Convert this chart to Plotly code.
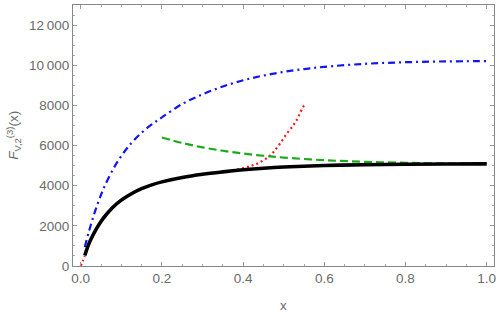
import plotly.graph_objects as go

# Black solid curve
black_x = [0.01, 0.02, 0.03, 0.04, 0.05, 0.06, 0.08, 0.10, 0.125, 0.15, 0.175, 0.20, 0.25, 0.30, 0.35, 0.40, 0.45, 0.50, 0.60, 0.70, 0.80, 0.90, 1.00]
black_y = [520, 1100, 1530, 1900, 2220, 2490, 2940, 3280, 3600, 3850, 4040, 4190, 4410, 4570, 4690, 4790, 4870, 4930, 5005, 5045, 5070, 5082, 5088]

# Blue dash-dot curve
blue_x = [0.01, 0.02, 0.03, 0.04, 0.05, 0.06, 0.08, 0.10, 0.125, 0.15, 0.175, 0.20, 0.25, 0.30, 0.35, 0.40, 0.45, 0.50, 0.55, 0.60, 0.70, 0.80, 0.90, 1.00]
blue_y = [950, 1700, 2390, 3000, 3540, 4020, 4830, 5480, 6130, 6640, 7050, 7400, 8070, 8550, 8940, 9250, 9485, 9670, 9810, 9920, 10070, 10150, 10190, 10205]

# Green dashed curve
green_x = [0.20, 0.25, 0.30, 0.35, 0.40, 0.45, 0.50, 0.60, 0.70, 0.80, 0.90, 1.00]
green_y = [6400, 6130, 5910, 5740, 5600, 5490, 5400, 5270, 5190, 5140, 5110, 5095]

# Red dotted curve (two pieces)
red1_x = [0.0, 0.005, 0.01]
red1_y = [0, 250, 500]
red2_x = [0.385, 0.4175, 0.438, 0.4626, 0.475, 0.491, 0.508, 0.524, 0.536, 0.549, 0.555]
red2_y = [4805, 4970, 5135, 5434, 5683, 6101, 6600, 7014, 7428, 7961, 8050]

y_tickvals = [0, 2000, 4000, 6000, 8000, 10000, 12000]
y_ticktext = ["0", "2000", "4000", "6000", "8000", "10\u2009000", "12\u2009000"]
x_tickvals = [0.0, 0.2, 0.4, 0.6, 0.8, 1.0]
x_ticktext = ["0.0", "0.2", "0.4", "0.6", "0.8", "1.0"]

FONT = "Liberation Sans, Arial, sans-serif"
GRAY = "#6a6a6a"

fig = go.Figure()
fig.add_trace(go.Scatter(x=red1_x, y=red1_y, mode="lines",
                         line=dict(color="#ff1a1a", width=2.2, dash="2px,3px", shape="spline")))
fig.add_trace(go.Scatter(x=red2_x, y=red2_y, mode="lines",
                         line=dict(color="#ff1a1a", width=2.2, dash="2px,3px", shape="spline")))
fig.add_trace(go.Scatter(x=green_x, y=green_y, mode="lines",
                         line=dict(color="#1aaa1a", width=2.2, dash="8px,4px", shape="spline")))
fig.add_trace(go.Scatter(x=blue_x, y=blue_y, mode="lines",
                         line=dict(color="#1414ee", width=2.2, dash="7px,4px,2px,4px", shape="spline")))
fig.add_trace(go.Scatter(x=black_x, y=black_y, mode="lines",
                         line=dict(color="black", width=3.6, shape="spline")))

axis_common = dict(showline=True, linecolor="#888888", linewidth=1, mirror="allticks",
                   ticks="inside", tickcolor="#999999", ticklen=4, showgrid=False, zeroline=False,
                   automargin=False,
                   tickfont=dict(family=FONT, size=13.5, color=GRAY))

fig.update_xaxes(range=[-0.019, 1.018], tickvals=x_tickvals, ticktext=x_ticktext,
                 minor=dict(dtick=0.05, ticks="inside", ticklen=2, tickcolor="#aaaaaa"),
                 **axis_common)
fig.update_yaxes(range=[0, 13000], tickvals=y_tickvals, ticktext=y_ticktext,
                 minor=dict(tickvals=[v for v in range(0, 13001, 500)], ticks="inside", ticklen=2, tickcolor="#aaaaaa"),
                 **axis_common)

fig.add_annotation(text="x", xref="paper", yref="paper", x=0.5, y=-0.152, yanchor="middle",
                   showarrow=False, font=dict(family=FONT, size=13.5, color=GRAY))
fig.add_annotation(text="<i>F</i><sub>V,2</sub><sup>(3)</sup>(x)", xref="paper", yref="paper",
                   x=-0.142, xanchor="center", y=0.5, yanchor="middle", textangle=-90,
                   showarrow=False, font=dict(family=FONT, size=13.5, color=GRAY))

fig.update_layout(width=501, height=314, margin=dict(l=73, r=7, t=5, b=48),
                  plot_bgcolor="white", paper_bgcolor="white", showlegend=False)

fig.write_html("out.html", config={"displayModeBar": False},
               post_script="document.body.style.margin='0';document.body.style.padding='0';")
